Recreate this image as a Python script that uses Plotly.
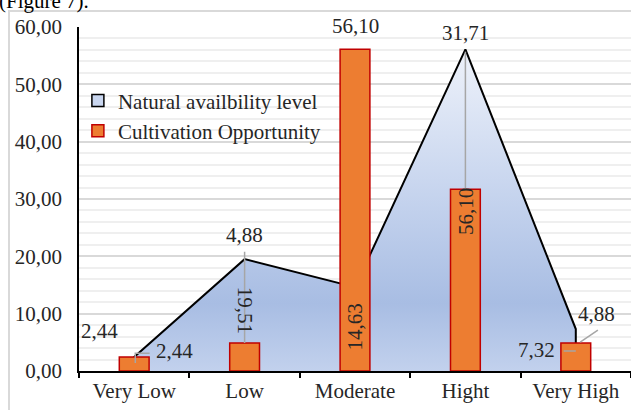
import plotly.graph_objects as go

# ---- data ----
categories = ["Very Low", "Low", "Moderate", "Hight", "Very High"]
natural_level = [2.44, 19.51, 14.63, 56.10, 7.32]
cultivation = [2.44, 4.88, 56.10, 31.71, 4.88]
y_ticks = [0, 10, 20, 30, 40, 50, 60]
Y_MAX = 60

FONT = "Liberation Serif, Times New Roman, serif"
TEXT = "#262626"
FS = 21


def fmt(v):
    return f"{v:.2f}".replace(".", ",")


fig = go.Figure()

# Area series drawn as a closed polygon so the outline drops to the axis at the right end
area_x = [categories[0]] + categories + [categories[-1]]
area_y = [0] + natural_level + [0]
fig.add_trace(go.Scatter(
    x=area_x, y=area_y, mode="lines", fill="toself",
    line=dict(color="black", width=2),
    fillgradient=dict(
        type="vertical", start=0, stop=max(natural_level),
        colorscale=[[0, "#c2d1ed"], [0.21, "#a8bde3"], [0.55, "#c6d4ee"], [1, "#eef2fa"]],
    ),
    showlegend=False, hoverinfo="skip", xaxis="x", yaxis="y",
))

# Legend swatch for the area series (square marker)
fig.add_trace(go.Bar(
    x=[None], y=[None], name="Natural availbility level",
    marker=dict(color="#c9d6ef", line=dict(color="black", width=1.5)),
    xaxis="x", yaxis="y2",
))

# Bars on an overlaid axis so they sit on top of the area
fig.add_trace(go.Bar(
    x=categories, y=cultivation, name="Cultivation Opportunity", width=0.27,
    marker=dict(color="#ed7d31", line=dict(color="#c00000", width=1.5)),
    xaxis="x", yaxis="y2",
))

# ---- data labels: (value, x position, y position in data units, angle) ----
label_specs = [
    (natural_level[0], -0.317, 6.9, 0),
    (cultivation[0], 0.362, 3.5, 0),
    (cultivation[1], 1.0, 23.7, 0),
    (natural_level[1], 1.0, 10.6, 90),
    (cultivation[2], 2.0, 60.1, 0),
    (natural_level[2], 2.0, 7.6, -90),
    (cultivation[3], 3.0, 59.0, 0),
    (natural_level[3], 3.0, 27.8, -90),
    (cultivation[4], 4.19, 9.9, 0),
    (natural_level[4], 3.64, 3.6, 0),
]
annotations = []
for val, lx, ly, ang in label_specs:
    annotations.append(dict(
        x=lx, y=ly / Y_MAX, xref="x", yref="paper", text=fmt(val), showarrow=False,
        textangle=ang, xanchor="center", yanchor="middle",
        font=dict(family=FONT, size=FS, color=TEXT),
    ))

annotations.append(dict(
    x=-0.148, y=1.035, xref="paper", yref="paper", text="(Figure 7).",
    showarrow=False, xanchor="left", yanchor="bottom",
    font=dict(family=FONT, size=FS, color="black"),
))

# ---- leader lines ----
LEAD = dict(color="#a6a6a6", width=1.5)
leaders = [
    [(0.01, 1.4), (0.01, 3.1), (0.14, 3.1)],
    [(1.0, cultivation[1]), (1.0, 20.8)],
    [(3.0, cultivation[3]), (3.0, 55.7)],
    [(4.04, cultivation[4] + 0.15), (4.2, 7.15)],
    [(3.89, 3.49), (4.0, 3.49)],
]
shapes = []
for pts in leaders:
    path = "M " + " L ".join(f"{px},{py}" for px, py in pts)
    shapes.append(dict(type="path", path=path, xref="x", yref="y", line=LEAD, layer="above"))

# outer chart frame
shapes.append(dict(
    type="path", xref="paper", yref="paper",
    path="M -0.1268,-0.13 L -0.1268,1.0465 L 1.02,1.0465",
    line=dict(color="#d9d9d9", width=2),
))

fig.update_layout(
    width=631, height=410,
    margin=dict(l=79, r=0, t=27, b=39),
    paper_bgcolor="white", plot_bgcolor="white",
    separators=", ",
    barmode="overlay",
    font=dict(family=FONT, size=FS, color=TEXT),
    showlegend=True,
    legend=dict(
        x=-0.002, y=0.845, xanchor="left", yanchor="top",
        bgcolor="rgba(0,0,0,0)", traceorder="normal",
        font=dict(family=FONT, size=FS, color=TEXT),
        itemwidth=30, tracegroupgap=0,
    ),
    annotations=annotations,
    shapes=shapes,
    xaxis=dict(
        type="category", categoryorder="array", categoryarray=categories,
        range=[-0.5, 4.5],
        showline=True, linecolor="black", linewidth=1.5,
        ticks="outside", tickson="boundaries", ticklen=5, tickwidth=1.5, tickcolor="black",
        showgrid=False,
        tickfont=dict(family=FONT, size=FS, color=TEXT),
    ),
    yaxis=dict(
        range=[0, Y_MAX], tickvals=y_ticks, tickformat=".2f",
        showline=True, linecolor="black", linewidth=1.5,
        showgrid=True, gridcolor="#d9d9d9", gridwidth=2,
        minor=dict(dtick=2, showgrid=True, gridcolor="#efefef", gridwidth=1.5),
        zeroline=False, ticks="", ticklabelstandoff=11,
        tickfont=dict(family=FONT, size=FS, color=TEXT),
    ),
    yaxis2=dict(
        range=[0, Y_MAX], overlaying="y", visible=False, showgrid=False,
    ),
)

fig.write_html("out.html")
